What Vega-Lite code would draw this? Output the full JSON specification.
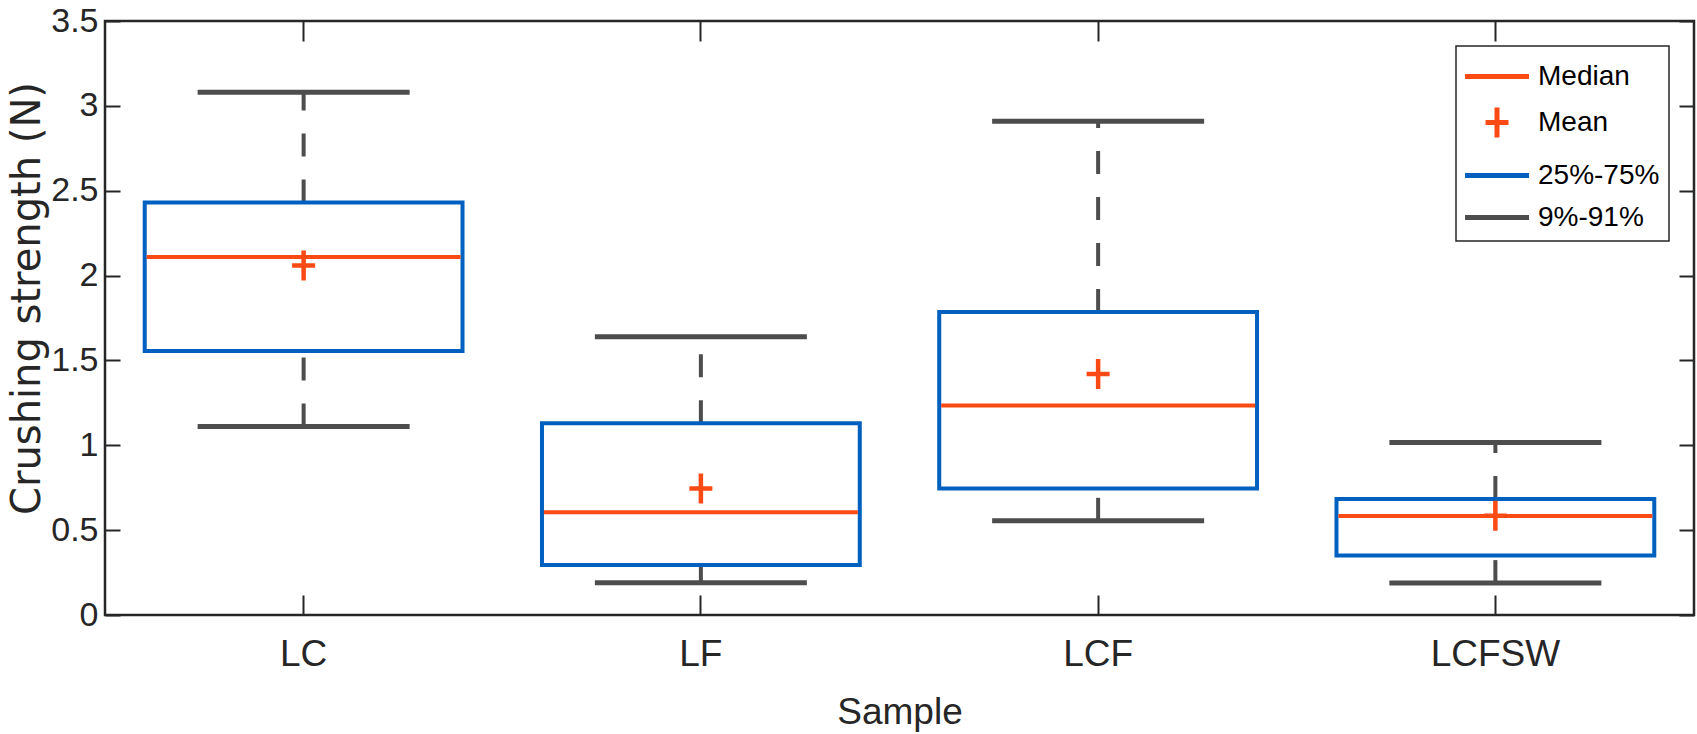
{
  "$schema": "https://vega.github.io/schema/vega-lite/v6.json",
  "width": 1589,
  "height": 594,
  "autosize": {"type": "none"},
  "padding": {"left": 105, "top": 21, "right": 3, "bottom": 119},
  "background": "white",
  "config": {
    "view": {"stroke": "#262626", "strokeWidth": 2.5},
    "legend": {"strokeWidth": 1.5},
    "axis": {
      "domain": false,
      "grid": false,
      "tickColor": "#262626",
      "tickWidth": 2,
      "labelColor": "#262626",
      "labelFont": "'Liberation Sans Narrow', 'Arial Narrow', 'Liberation Sans', sans-serif",
      "labelFontSize": 37,
      "titleColor": "#262626",
      "titleFontWeight": "normal"
    }
  },
  "data": {
    "values": [
      {"sample": "LC", "lo": 1.11, "q1": 1.555, "median": 2.11, "mean": 2.06, "q3": 2.43, "hi": 3.08},
      {"sample": "LF", "lo": 0.19, "q1": 0.295, "median": 0.605, "mean": 0.745, "q3": 1.13, "hi": 1.64},
      {"sample": "LCF", "lo": 0.555, "q1": 0.745, "median": 1.235, "mean": 1.42, "q3": 1.785, "hi": 2.91},
      {"sample": "LCFSW", "lo": 0.188, "q1": 0.35, "median": 0.583, "mean": 0.585, "q3": 0.683, "hi": 1.017}
    ]
  },
  "resolve": {"axis": {"x": "independent", "y": "independent"}},
  "layer": [
    {
      "mark": {"type": "rule", "strokeDash": [23, 23], "strokeWidth": 4},
      "encoding": {
        "x": {
          "field": "sample", "type": "nominal",
          "sort": ["LC", "LF", "LCF", "LCFSW"],
          "scale": {"type": "band", "paddingInner": 0, "paddingOuter": 0},
          "axis": {"orient": "bottom", "title": "Sample", "tickSize": -20, "labelAngle": 0, "labelPadding": 41,
                   "titleFont": "'Liberation Sans Narrow', 'Arial Narrow', 'Liberation Sans', sans-serif", "titleFontSize": 37, "titlePadding": 22}
        },
        "y": {
          "field": "q3", "type": "quantitative",
          "scale": {"domain": [0, 3.5], "nice": false, "zero": false},
          "axis": {"orient": "left", "title": "Crushing strength (N)", "tickSize": -15, "labelPadding": 22, "labelFontSize": 34,
                   "values": [0, 0.5, 1, 1.5, 2, 2.5, 3, 3.5], "format": "~g",
                   "titleFont": "DejaVu Sans", "titleFontSize": 40, "titleX": -66, "titleY": 277, "titleBaseline": "alphabetic", "titleAngle": 270, "titleAlign": "center"}
        },
        "y2": {"field": "hi"},
        "color": {
          "datum": "9%-91%",
          "scale": {"domain": ["Median", "Mean", "25%-75%", "9%-91%"], "range": ["#FC4A14", "#FC4A14", "#0060C0", "#4D4D4D"]},
          "legend": {
            "title": null,
            "orient": "top-right",
            "offset": 25,
            "padding": 9,
            "strokeColor": "#262626",
            "fillColor": "white",
            "labelFont": "'Liberation Sans Narrow', 'Arial Narrow', 'Liberation Sans', sans-serif",
            "labelFontSize": 28,
            "labelColor": "black",
            "labelOffset": 30,
            "symbolSize": 1444,
            "symbolStrokeWidth": 0,
            "rowPadding": 6,
            "encode": {
              "symbols": {
                "update": {
                  "shape": {"signal": "datum.value === 'Mean' ? 'M-0.052,0H1.158M0.553,-0.79V0.79' : 'M-1.13,0H2.238'"},
                  "stroke": {"signal": "scale('color', datum.value)"},
                  "fill": {"value": "transparent"},
                  "strokeWidth": {"value": 5},
                  "opacity": {"value": 1}
                }
              }
            }
          }
        }
      }
    },
    {
      "mark": {"type": "rule", "strokeDash": [23, 23], "strokeWidth": 4},
      "encoding": {
        "x": {"field": "sample", "type": "nominal", "sort": ["LC", "LF", "LCF", "LCFSW"],
              "axis": {"orient": "top", "labels": false, "title": null, "tickSize": -20}},
        "y": {"field": "lo", "type": "quantitative",
              "axis": {"orient": "right", "labels": false, "title": null, "tickSize": -15, "values": [0, 0.5, 1, 1.5, 2, 2.5, 3, 3.5]}},
        "y2": {"field": "q1"},
        "color": {"datum": "9%-91%"}
      }
    },
    {
      "mark": {"type": "tick", "size": 212, "thickness": 5, "opacity": 1},
      "encoding": {
        "x": {"field": "sample", "type": "nominal", "sort": ["LC", "LF", "LCF", "LCFSW"], "axis": null},
        "y": {"field": "hi", "type": "quantitative", "axis": null},
        "color": {"datum": "9%-91%"}
      }
    },
    {
      "mark": {"type": "tick", "size": 212, "thickness": 5, "opacity": 1},
      "encoding": {
        "x": {"field": "sample", "type": "nominal", "sort": ["LC", "LF", "LCF", "LCFSW"], "axis": null},
        "y": {"field": "lo", "type": "quantitative", "axis": null},
        "color": {"datum": "9%-91%"}
      }
    },
    {
      "mark": {"type": "bar", "filled": false, "strokeWidth": 4, "width": {"band": 0.8}, "opacity": 1},
      "encoding": {
        "x": {"field": "sample", "type": "nominal", "sort": ["LC", "LF", "LCF", "LCFSW"], "axis": null},
        "y": {"field": "q1", "type": "quantitative", "axis": null},
        "y2": {"field": "q3"},
        "color": {"datum": "25%-75%"}
      }
    },
    {
      "mark": {"type": "tick", "size": 314, "thickness": 4, "opacity": 1},
      "encoding": {
        "x": {"field": "sample", "type": "nominal", "sort": ["LC", "LF", "LCF", "LCFSW"], "axis": null},
        "y": {"field": "median", "type": "quantitative", "axis": null},
        "color": {"datum": "Median"}
      }
    },
    {
      "mark": {"type": "point", "filled": false, "shape": "M-0.767,0H0.767M0,-1V1", "size": 900, "strokeWidth": 4.5, "opacity": 1},
      "encoding": {
        "x": {"field": "sample", "type": "nominal", "sort": ["LC", "LF", "LCF", "LCFSW"], "axis": null},
        "y": {"field": "mean", "type": "quantitative", "axis": null},
        "color": {"datum": "Mean"}
      }
    }
  ]
}
